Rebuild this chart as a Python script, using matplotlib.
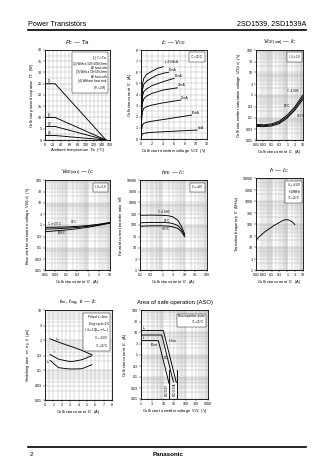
import matplotlib
matplotlib.use("Agg")
import matplotlib.pyplot as plt
from matplotlib.ticker import FixedLocator, FixedFormatter, NullFormatter, LogLocator, MultipleLocator

plt.rcParams['font.family'] = ['Liberation Sans', 'DejaVu Sans']
plt.rcParams['mathtext.fontset'] = 'custom'
plt.rcParams['mathtext.rm'] = 'Liberation Sans'
plt.rcParams['mathtext.it'] = 'Liberation Sans:italic'

# ---- Pc - Ta
ta_pts = [0, 25, 150]
pc_curves = {"(1)": [25, 25, 0], "(2)": [10, 10, 0], "(3)": [6, 6, 0], "(4)": [2, 2, 0]}

# ---- Ic - Vce  (Tc=25C)
ib_labels = ["$I_B$=100mA", "80mA", "60mA", "40mA", "20mA", "10mA", "5mA"]
vce_pts = [
    [0, 0.1, 0.25, 0.5, 1, 2, 3, 4],
    [0, 0.1, 0.25, 0.5, 1, 2, 3, 4, 5],
    [0, 0.1, 0.25, 0.5, 1, 2, 4, 6],
    [0, 0.1, 0.25, 0.5, 1, 2, 4, 6.6],
    [0, 0.1, 0.25, 0.5, 1, 2, 4, 7.2],
    [0, 0.1, 0.25, 0.5, 1, 2, 4, 6, 9.2],
    [0, 0.1, 0.25, 0.5, 1, 2, 4, 6, 8, 10.2],
]
ic_pts = [
    [0, 3.2, 4.9, 5.45, 5.8, 6.1, 6.35, 6.5],
    [0, 2.9, 4.4, 4.9, 5.2, 5.5, 5.75, 5.9, 6.0],
    [0, 2.5, 3.8, 4.25, 4.5, 4.8, 5.15, 5.45],
    [0, 2.1, 3.2, 3.6, 3.85, 4.1, 4.4, 4.6],
    [0, 1.6, 2.45, 2.75, 2.9, 3.05, 3.25, 3.5],
    [0, 0.8, 1.25, 1.4, 1.5, 1.6, 1.75, 1.9, 2.15],
    [0, 0.3, 0.45, 0.5, 0.55, 0.6, 0.65, 0.7, 0.75, 0.8],
]

# ---- Vce(sat) - Ic
sat_ic = [0.01, 0.03, 0.1, 0.3, 1, 3, 10]
vcesat = {"100": [0.05, 0.047, 0.052, 0.068, 0.13, 0.3, 1.0],
          "25": [0.045, 0.043, 0.047, 0.06, 0.11, 0.25, 0.8],
          "-25": [0.04, 0.039, 0.042, 0.053, 0.095, 0.21, 0.65]}

# ---- Vbe(sat) - Ic
vbesat = {"-25": [0.78, 0.8, 0.82, 0.86, 0.95, 1.08, 1.3],
          "25": [0.65, 0.68, 0.72, 0.78, 0.88, 1.02, 1.25],
          "100": [0.5, 0.55, 0.6, 0.68, 0.8, 0.96, 1.2]}

# ---- hFE - Ic
hfe_ic = [0.1, 0.3, 1, 2, 3, 5, 7, 10]
hfe = {"100": [270, 275, 270, 255, 230, 160, 90, 40],
       "25": [125, 130, 130, 125, 115, 95, 65, 35],
       "-25": [88, 92, 92, 88, 82, 70, 52, 30]}

# ---- fT - Ic
ft_ic = [0.01, 0.02, 0.04, 0.08, 0.15, 0.3, 0.5, 0.8, 1.2, 2, 3]
ft = [20, 32, 48, 66, 88, 115, 140, 155, 150, 125, 95]

# ---- switching times
sw_ic = [0.6, 1.6, 2.6, 3.2, 4.4, 5.6]
t_stg = [1.1, 0.85, 0.68, 0.6, 0.45, 0.32]
t_f = [0.33, 0.23, 0.2, 0.19, 0.22, 0.3]
t_on = [0.21, 0.12, 0.11, 0.108, 0.11, 0.15]

# ---- ASO
aso_icp_v = [1, 10, 40]
aso_icp_i = [12, 12, 0.045]
aso_ic_v = [1, 8.5, 28]
aso_ic_i = [7.5, 7.5, 0.06]
aso_dc_v = [1, 6, 18]
aso_dc_i = [4.2, 4.2, 0.05]
vceo = {"2SD1539": 18, "2SD1539A": 39}

W, H = 336, 474
fig = plt.figure(figsize=(W / 100, H / 100), dpi=100)
FS = 2.6


def box(x0, y0, x1, y1):
    return fig.add_axes([x0 / W, 1 - y1 / H, (x1 - x0) / W, (y1 - y0) / H])


def style(ax):
    ax.tick_params(which='both', labelsize=FS, length=1.2, width=0.3, pad=0.8)
    ax.tick_params(which='minor', length=0)
    for s in ax.spines.values():
        s.set_linewidth(0.6)
    ax.grid(True, which='both', color='0.6', linewidth=0.25)
    ax.set_axisbelow(True)


def set_log(axis, vals, labels):
    axis.set_major_locator(FixedLocator(vals))
    axis.set_major_formatter(FixedFormatter(labels))
    axis.set_minor_locator(LogLocator(base=10, subs=range(2, 10)))
    axis.set_minor_formatter(NullFormatter())


def labels(ax, title, xl, yl):
    ax.set_title(title, fontsize=4.2, pad=4)
    ax.set_xlabel(xl, fontsize=FS + 0.3, labelpad=1)
    ax.set_ylabel(yl, fontsize=FS + 0.3, labelpad=1.5)


def note(ax, txt):
    ax.text(0.95, 0.96, txt, transform=ax.transAxes, ha='right', va='top', fontsize=FS - 0.4,
            linespacing=1.1, bbox=dict(facecolor='white', edgecolor='black', linewidth=0.3, pad=0.8))


lw = 0.65

# header / footer
fig.text(28 / W, 1 - 24 / H, "Power Transistors", fontsize=5.2, va='center')
fig.text(306 / W, 1 - 24 / H, "2SD1539, 2SD1539A", fontsize=5.2, va='center', ha='right')
fig.add_artist(plt.Line2D([28 / W, 306 / W], [1 - 30 / H, 1 - 30 / H], color='black', lw=1.2))
fig.add_artist(plt.Line2D([28 / W, 306 / W], [1 - 447 / H, 1 - 447 / H], color='black', lw=1.2))
fig.text(30 / W, 1 - 455 / H, "2", fontsize=4.5, va='center')
fig.text(168 / W, 1 - 455 / H, "Panasonic", fontsize=4.5, va='center', ha='center', weight='bold')

# 1. Pc - Ta
ax = box(45, 50, 110, 140)
style(ax)
for name, pc in pc_curves.items():
    ax.plot(ta_pts, pc, color='black', lw=lw)
    ax.text(8, pc[0] + 0.6, name, fontsize=FS - 0.5)
ax.set_xlim(0, 160)
ax.set_ylim(0, 40)
ax.xaxis.set_major_locator(MultipleLocator(20))
ax.xaxis.set_minor_locator(MultipleLocator(10))
ax.yaxis.set_major_locator(MultipleLocator(5))
ax.yaxis.set_minor_locator(MultipleLocator(2.5))
note(ax, "(1) $T_C$=Ta\n(2) With a 100×100×2mm\n      Al heat sink\n(3) With a 50×50×2mm\n"
         "      Al heat sink\n(4) Without heat sink\n      ($P_C$=2W)")
labels(ax, "$P_C$ — Ta", "Ambient temperature  Ta  (°C)", "Collector power dissipation  $P_C$  (W)")

# 2. Ic - Vce
ax = box(141, 50, 207, 139)
style(ax)
for lab, v, i in zip(ib_labels, vce_pts, ic_pts):
    ax.plot(v, i, color='black', lw=lw)
    ax.text(v[-1] + 0.1, i[-1] + 0.05, lab, fontsize=FS - 0.5, va='bottom')
ax.set_xlim(0, 12)
ax.set_ylim(0, 8)
ax.xaxis.set_major_locator(MultipleLocator(2))
ax.xaxis.set_minor_locator(MultipleLocator(1))
ax.yaxis.set_major_locator(MultipleLocator(1))
ax.yaxis.set_minor_locator(MultipleLocator(0.5))
note(ax, "$T_C$=25°C")
labels(ax, "$I_C$ — $V_{CE}$", "Collector to emitter voltage  $V_{CE}$  (V)", "Collector current  $I_C$  (A)")

dec_lbl = ["0.01", "0.03", "0.1", "0.3", "1", "3", "10", "30", "100"]
dec_val = [0.01, 0.03, 0.1, 0.3, 1, 3, 10, 30, 100]

# 3. Vce(sat) - Ic
ax = box(256, 50, 303, 140)
style(ax)
for t, v in vcesat.items():
    ax.plot(sat_ic, v, color='black', lw=lw)
ax.set_xscale('log')
ax.set_yscale('log')
ax.set_xlim(0.01, 10)
ax.set_ylim(0.01, 100)
set_log(ax.xaxis, dec_val[:7], dec_lbl[:7])
set_log(ax.yaxis, dec_val, dec_lbl)
ax.text(2.5, 1.3, "$T_C$=100°C", fontsize=FS - 0.5, ha='center')
ax.text(0.6, 0.3, "25°C", fontsize=FS - 0.5)
ax.text(4, 0.11, "−25°C", fontsize=FS - 0.5)
note(ax, "$I_C$/$I_B$=10")
labels(ax, "$V_{CE(sat)}$ — $I_C$", "Collector current  $I_C$  (A)",
       "Collector-emitter saturation voltage  $V_{CE(sat)}$  (V)")

# 4. Vbe(sat) - Ic
ax = box(45, 180, 110, 270)
style(ax)
for t, v in vbesat.items():
    ax.plot(sat_ic, v, color='black', lw=lw)
ax.set_xscale('log')
ax.set_yscale('log')
ax.set_xlim(0.01, 10)
ax.set_ylim(0.01, 100)
set_log(ax.xaxis, dec_val[:7], dec_lbl[:7])
set_log(ax.yaxis, dec_val, dec_lbl)
ax.text(0.012, 0.95, "$T_C$=−25°C", fontsize=FS - 0.5)
ax.text(0.15, 1.2, "25°C", fontsize=FS - 0.5)
ax.text(0.04, 0.38, "100°C", fontsize=FS - 0.5)
note(ax, "$I_C$/$I_B$=10")
labels(ax, "$V_{BE(sat)}$ — $I_C$", "Collector current  $I_C$  (A)",
       "Base-emitter saturation voltage  $V_{BE(sat)}$  (V)")

# 5. hFE - Ic
ax = box(140, 180, 207, 270)
style(ax)
for t, h in hfe.items():
    ax.plot(hfe_ic, h, color='black', lw=lw)
ax.set_xscale('log')
ax.set_yscale('log')
ax.set_xlim(0.1, 100)
ax.set_ylim(1, 10000)
set_log(ax.xaxis, [0.1, 0.3, 1, 3, 10, 30, 100], ["0.1", "0.3", "1", "3", "10", "30", "100"])
set_log(ax.yaxis, [1, 3, 10, 30, 100, 300, 1000, 3000, 10000],
        ["1", "3", "10", "30", "100", "300", "1000", "3000", "10000"])
ax.text(0.6, 330, "$T_C$=100°C", fontsize=FS - 0.5)
ax.text(1.2, 140, "25°C", fontsize=FS - 0.5)
ax.text(1.0, 58, "−25°C", fontsize=FS - 0.5)
note(ax, "$V_{CE}$=4V")
labels(ax, "$h_{FE}$ — $I_C$", "Collector current  $I_C$  (A)", "Forward current transfer ratio  $h_{FE}$")

# 6. fT - Ic
ax = box(256, 178, 303, 270)
style(ax)
ax.plot(ft_ic, ft, color='black', lw=lw)
ax.set_xscale('log')
ax.set_yscale('log')
ax.set_xlim(0.01, 10)
ax.set_ylim(1, 10000)
set_log(ax.xaxis, dec_val[:7], dec_lbl[:7])
set_log(ax.yaxis, [1, 3, 10, 30, 100, 300, 1000, 3000, 10000],
        ["1", "3", "10", "30", "100", "300", "1000", "3000", "10000"])
note(ax, "$V_{CE}$=10V\nf=10MHz\n$T_C$=25°C")
labels(ax, "$f_T$ — $I_C$", "Collector current  $I_C$  (A)", "Transition frequency  $f_T$  (MHz)")

# 7. switching time
ax = box(45, 310, 112, 400)
style(ax)
ax.plot(sw_ic, t_stg, color='black', lw=lw)
ax.plot(sw_ic, t_f, color='black', lw=lw)
ax.plot(sw_ic, t_on, color='black', lw=lw)
ax.set_yscale('log')
ax.set_xlim(0, 8)
ax.set_ylim(0.01, 10)
ax.xaxis.set_major_locator(MultipleLocator(1))
ax.xaxis.set_minor_locator(MultipleLocator(0.5))
set_log(ax.yaxis, dec_val[:7], dec_lbl[:7])
ax.text(1.2, 1.05, "$t_{stg}$", fontsize=FS - 0.5)
ax.text(0.9, 0.37, "$t_f$", fontsize=FS - 0.5)
ax.text(0.15, 0.16, "$t_{on}$", fontsize=FS - 0.5)
note(ax, "Pulsed $t_w$=1ms\nDuty cycle=1%\n$I_C$/$I_B$=10($I_{B1}$=−$I_{B2}$)\n$V_{CC}$=50V\n$T_C$=25°C")
labels(ax, "$t_{on}$, $t_{stg}$, $t_f$ — $I_C$", "Collector current  $I_C$  (A)",
       "Switching time  $t_{on}$, $t_{stg}$, $t_f$  (μs)")

# 8. ASO
ax = box(141, 310, 208, 399)
style(ax)
ax.plot(aso_icp_v, aso_icp_i, color='black', lw=lw)
ax.plot(aso_ic_v, aso_ic_i, color='black', lw=lw)
ax.plot(aso_dc_v, aso_dc_i, color='black', lw=lw)
for name, v in vceo.items():
    ax.plot([v, v], [0.01, 0.2], color='black', lw=lw)
    ax.text(v * 0.82, 0.013, name, rotation=90, fontsize=FS - 0.6, ha='center', va='bottom',
            bbox=dict(facecolor='white', edgecolor='none', pad=0.2))
ax.set_xscale('log')
ax.set_yscale('log')
ax.set_xlim(1, 1000)
ax.set_ylim(0.01, 100)
set_log(ax.xaxis, [1, 3, 10, 30, 100, 300, 1000], ["1", "3", "10", "30", "100", "300", "1000"])
set_log(ax.yaxis, dec_val, dec_lbl)
ax.text(1.1, 12.8, "$I_{CP}$", fontsize=FS - 0.8)
ax.text(1.1, 4.6, "$I_C$", fontsize=FS - 0.8)
ax.text(18, 3.5, "t=1ms", fontsize=FS - 0.5)
ax.text(2.6, 2.3, "10ms", fontsize=FS - 0.5)
ax.text(10, 0.6, "DC", fontsize=FS - 0.5)
note(ax, "Non repetitive pulse\n$T_C$=25°C")
labels(ax, "Area of safe operation (ASO)", "Collector to emitter voltage  $V_{CE}$  (V)",
       "Collector current  $I_C$  (A)")

fig.savefig("out.png", dpi=100)
